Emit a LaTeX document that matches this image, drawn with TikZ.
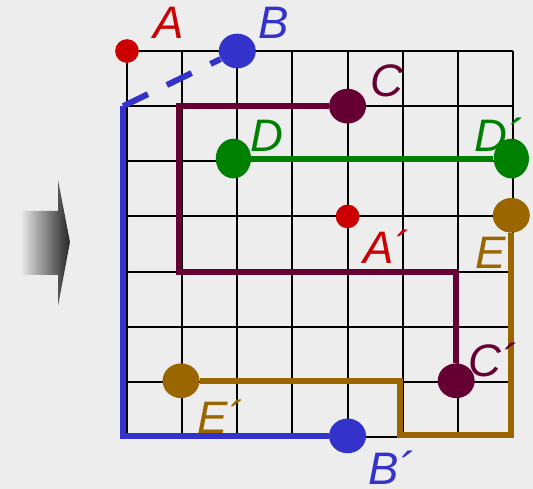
\documentclass[tikz,border=0pt]{standalone}
\usepackage{fontspec}
\setmainfont{Liberation Sans}
\usepackage{tikz}
\usetikzlibrary{shapes.geometric, backgrounds}
\definecolor{fondo}{RGB}{237,237,237}
\definecolor{rojo}{RGB}{204,0,0}
\definecolor{azul}{RGB}{51,51,204}
\definecolor{granate}{RGB}{102,0,51}
\definecolor{verde}{RGB}{0,128,0}
\definecolor{ocre}{RGB}{153,102,0}
\tikzset{
  punto/.style={circle, inner sep=0pt, minimum size=0.43cm},
  bola/.style={ellipse, inner sep=0pt, minimum width=0.67cm, minimum height=0.63cm},
  bolaalta/.style={ellipse, inner sep=0pt, minimum width=0.64cm, minimum height=0.72cm},
  camino/.style={line width=3.1pt, line join=miter},
  etiqueta/.style={font=\fontsize{23.5}{24}\selectfont\itshape, inner sep=0pt, anchor=base west},
  rejilla/.style={line width=1pt, black}
}

\begin{document}
\begin{tikzpicture}
        \useasboundingbox (-2.303,-0.943) rectangle (7.363,7.925);

        % Puntos
        \node[punto, fill=rojo] (A) at (0,7) {};
        \node[punto, fill=rojo] (A2) at (4,4) {};
        \node[bola, fill=azul] (B) at (2,7) {};
        \node[bola, fill=azul] (B2) at (4,0.02) {};
        \node[bola, fill=granate] (C) at (4,6) {};
        \node[bola, fill=granate] (C2) at (5.97,1.02) {};
        \node[bolaalta, fill=verde] (D) at (1.93,5.05) {};
        \node[bolaalta, fill=verde] (D2) at (6.97,5.05) {};
        \node[bola, fill=ocre] (E) at (6.97,4.02) {};
        \node[bola, fill=ocre] (E2) at (0.98,1.02) {};

        % Esquinas de los caminos
        \coordinate (b1) at (-0.07,6);
        \coordinate (b2) at (-0.07,0.02);
        \coordinate (c1) at (0.95,6);
        \coordinate (c2) at (0.95,3);
        \coordinate (c3) at (5.97,3);
        \coordinate (e1) at (6.97,0.03);
        \coordinate (e2) at (4.95,0.03);
        \coordinate (e3) at (4.95,1.02);

        \begin{scope}[on background layer]
            % Fondo y cuadricula
            \fill[fondo] (-2.303,-0.943) rectangle (7.363,7.925);
            \draw[rejilla] (0,0) grid (7,7);

            % Flecha
            \shade[left color=fondo, right color=black!85]
                (-1.94,4.10) -- (-1.251,4.10) -- (-1.251,4.66) -- (-1.034,3.536)
                -- (-1.251,2.376) -- (-1.251,2.94) -- (-1.94,2.94) -- cycle;

            % Caminos
            \draw[camino, azul, dash pattern=on 0.5cm off 0.38cm] (b1) -- (B);
            \draw[camino, azul] (b1) -- (b2) -- (B2);
            \draw[camino, granate] (C) -- (c1) -- (c2) -- (c3) -- (C2);
            \draw[camino, verde] (D) -- (D2);
            \draw[camino, ocre] (E) -- (e1) -- (e2) -- (e3) -- (E2);
        \end{scope}

        % Etiquetas
        \node[etiqueta, text=rojo] (lA) at (0.47,7.22) {A};
        \node[etiqueta, text=azul] (lB) at (2.38,7.22) {B};
        \node[etiqueta, text=granate] (lC) at (4.41,6.17) {C};
        \node[etiqueta, text=verde] (lD) at (2.23,5.17) {D};
        \node[etiqueta, text=verde] (lD2) at (6.29,5.17) {D´};
        \node[etiqueta, text=rojo] (lA2) at (4.28,3.14) {A´};
        \node[etiqueta, text=ocre] (lE) at (6.31,3.06) {E};
        \node[etiqueta, text=granate] (lC2) at (6.18,1.09) {C´};
        \node[etiqueta, text=ocre] (lE2) at (1.27,0.07) {E´};
        \node[etiqueta, text=azul] (lB2) at (4.37,-0.86) {B´};
    \end{tikzpicture}
\end{document}
